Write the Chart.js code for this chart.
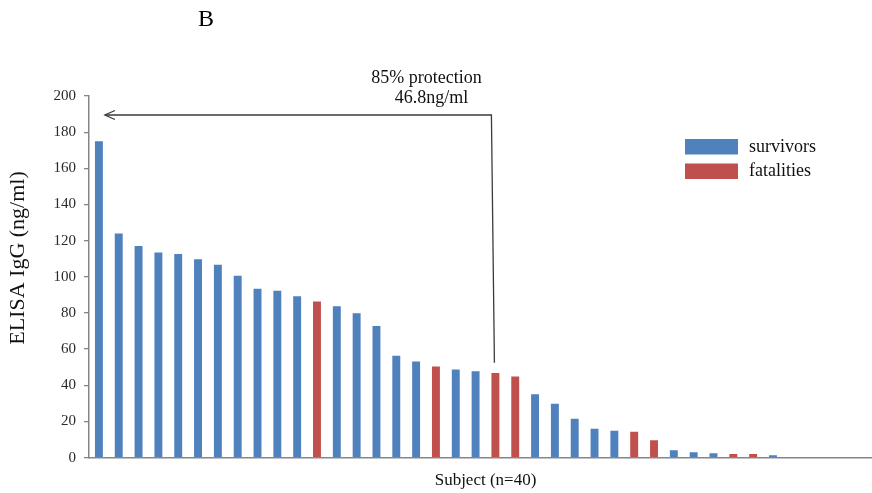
<!DOCTYPE html>
<html>
<head>
<meta charset="utf-8">
<script src="https://cdn.jsdelivr.net/npm/chart.js@4.4.1/dist/chart.umd.min.js"></script>
<style>
  html, body { margin: 0; padding: 0; background: #fff; overflow: hidden; }
  #wrap { width: 872px; height: 493px; overflow: hidden; }
</style>
</head>
<body>
<div id="wrap"><canvas id="elisaChart" width="882" height="493"></canvas></div>
<script>
// subjects sorted by ELISA IgG level
const subjects = ["1", "2", "3", "4", "5", "6", "7", "8", "9", "10",
    "11", "12", "13", "14", "15", "16", "17", "18", "19", "20",
    "21", "22", "23", "24", "25", "26", "27", "28", "29", "30",
    "31", "32", "33", "34", "35", "36", "37", "38", "39", "40"];
const igg = [175, 124, 117, 113.5, 112.6, 109.7, 106.6, 100.6, 93.4, 92.3,
    89.2, 86.4, 83.7, 79.8, 72.8, 56.4, 53.1, 50.4, 48.7, 47.8,
    46.8, 44.8, 35.1, 29.8, 21.5, 16.0, 14.9, 14.3, 9.6, 4.1,
    3.0, 2.4, 2.0, 2.0, 1.3, 0, 0, 0, 0, 0];
// S = survivor, F = fatality
const outcome = ["S", "S", "S", "S", "S", "S", "S", "S", "S", "S",
    "S", "F", "S", "S", "S", "S", "S", "F", "S", "S",
    "F", "F", "S", "S", "S", "S", "S", "F", "F", "S",
    "S", "S", "F", "F", "S", "S", "S", "S", "S", "S"];
const yTicks = [0, 20, 40, 60, 80, 100, 120, 140, 160, 180, 200];

const cutoffIndex = 20; // subject at 46.8 ng/ml
const noteLines = ["85% protection", "46.8ng/ml"];
const yTitle = "ELISA IgG (ng/ml)";

const serif = "'Liberation Serif', 'Times New Roman', serif";
const blue = "#4F81BD";
const red = "#C0504D";
const axisGray = "#868686";

const survivors = igg.map((v, i) => outcome[i] === "S" ? v : null);
const fatalities = igg.map((v, i) => outcome[i] === "F" ? v : null);

const extrasPlugin = {
    id: "extras",
    afterDraw(chart) {
        const ctx = chart.ctx;
        const x = chart.scales.x;
        const y = chart.scales.y;
        ctx.save();

        // panel letter
        ctx.fillStyle = "#000";
        ctx.font = "24px " + serif;
        ctx.textAlign = "center";
        ctx.textBaseline = "middle";
        ctx.fillText("B", 206, 20);

        // y axis title, sits a bit above the axis middle in the original
        ctx.save();
        ctx.translate(18, 258);
        ctx.rotate(-Math.PI / 2);
        ctx.fillStyle = "#111";
        ctx.font = "22px " + serif;
        ctx.fillText(yTitle, 0, 0);
        ctx.restore();

        // protection arrow
        const xCut = x.getPixelForValue(cutoffIndex);
        const yArrow = y.getPixelForValue(189.5);
        const yEnd = y.getPixelForValue(52.5);
        const xTip = x.getPixelForValue(0) + 6;
        ctx.strokeStyle = "#3a3a3a";
        ctx.lineWidth = 1.3;
        ctx.beginPath();
        ctx.moveTo(xTip, yArrow);
        ctx.lineTo(xCut - 4, yArrow);
        ctx.lineTo(xCut - 1, yEnd);
        ctx.stroke();
        ctx.beginPath();
        ctx.moveTo(xTip + 10, yArrow - 4.5);
        ctx.lineTo(xTip, yArrow);
        ctx.lineTo(xTip + 10, yArrow + 4.5);
        ctx.stroke();

        ctx.fillStyle = "#111";
        ctx.font = "18px " + serif;
        ctx.fillText(noteLines[0], xCut - 69, y.getPixelForValue(210));
        ctx.fillText(noteLines[1], xCut - 64, y.getPixelForValue(198.6));

        // legend
        const items = chart.data.datasets;
        ctx.textAlign = "left";
        items.forEach((ds, i) => {
            const top = 139 + i * 24.5;
            ctx.fillStyle = ds.backgroundColor;
            ctx.fillRect(685, top, 53, 15.5);
            ctx.fillStyle = "#111";
            ctx.fillText(ds.label, 749, top + 8);
        });
        ctx.restore();
    }
};

const chartCtx = document.getElementById("elisaChart").getContext("2d");
new Chart(chartCtx, {
    type: "bar",
    data: {
        labels: subjects,
        datasets: [{
            label: "survivors",
            data: survivors,
            backgroundColor: blue,
            barPercentage: 0.4,
            categoryPercentage: 1
        }, {
            label: "fatalities",
            data: fatalities,
            backgroundColor: red,
            barPercentage: 0.4,
            categoryPercentage: 1
        }]
    },
    options: {
        responsive: false,
        animation: false,
        layout: { padding: { top: 96, left: 0, right: 0, bottom: 0 } },
        plugins: {
            legend: { display: false },
            tooltip: { enabled: false }
        },
        scales: {
            x: {
                stacked: true,
                grid: { display: false, drawTicks: false },
                border: { color: axisGray, width: 1.5 },
                ticks: { display: false },
                title: {
                    display: true,
                    text: "Subject (n=40)",
                    color: "#111",
                    font: { family: serif, size: 17 },
                    padding: { top: 13, bottom: 2 }
                }
            },
            y: {
                stacked: true,
                min: 0,
                max: 200,
                afterBuildTicks: scale => {
                    scale.ticks = yTicks.map(v => ({ value: v }));
                },
                afterFit: scale => {
                    scale.width = 89;
                },
                ticks: {
                    padding: 8,
                    color: "#2a2a2a",
                    font: { family: serif, size: 15 }
                },
                grid: { drawOnChartArea: false, tickLength: 5, color: axisGray, lineWidth: 1.3 },
                border: { color: axisGray, width: 1.5 }
            }
        }
    },
    plugins: [extrasPlugin]
});
</script>
</body>
</html>
